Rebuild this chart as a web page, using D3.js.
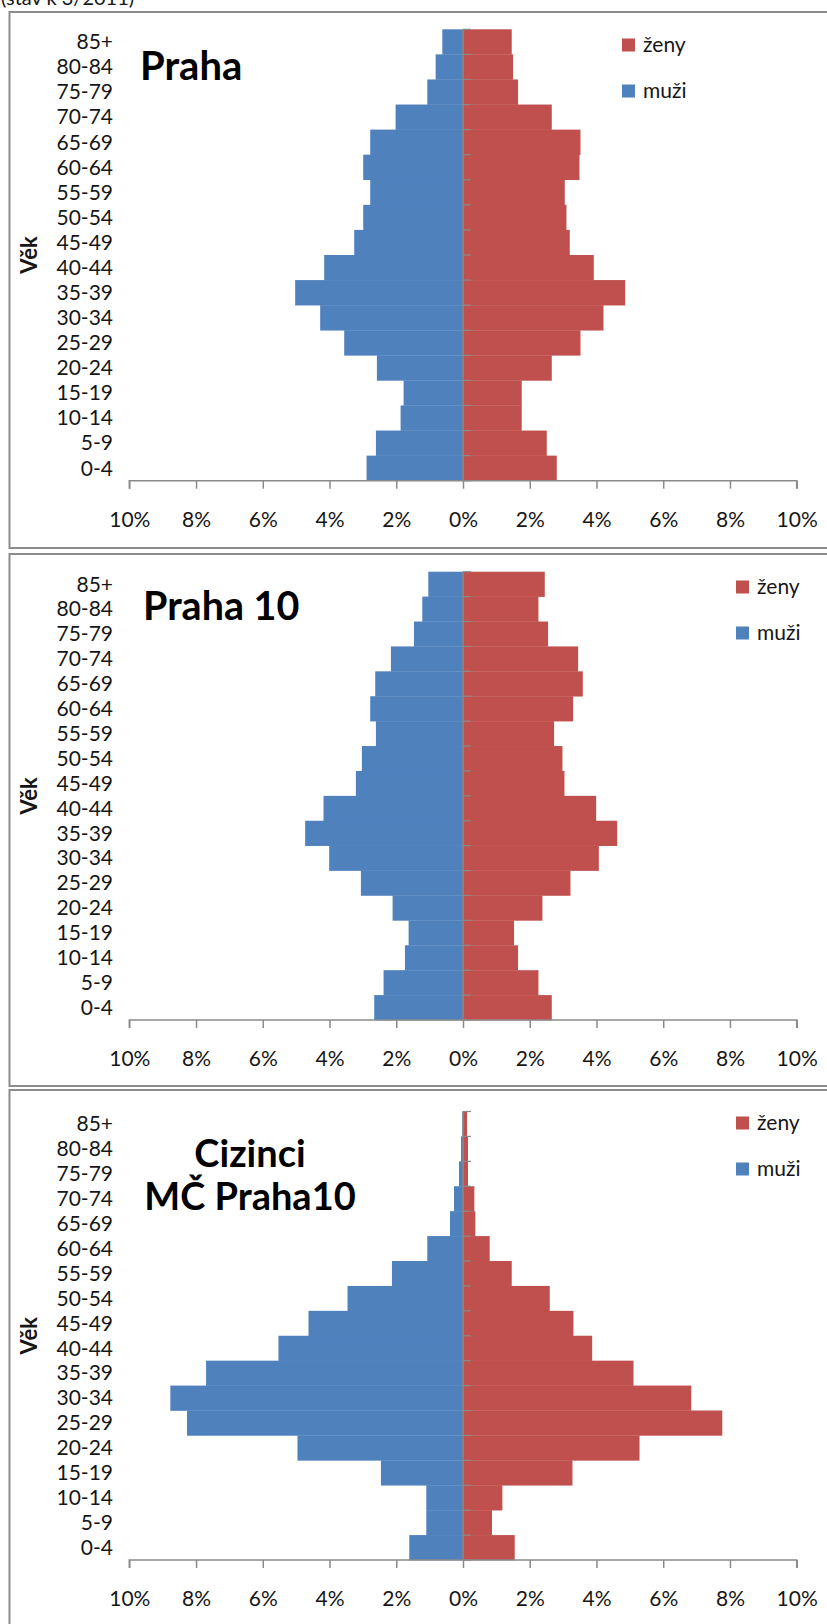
<!DOCTYPE html>
<html>
<head>
<meta charset="utf-8">
<script src="https://cdn.jsdelivr.net/npm/d3@7"></script>
<style>
  html, body { margin: 0; padding: 0; background: #fff; }
  svg { display: block; font-family: Lato, "Open Sans", sans-serif; }
</style>
</head>
<body>
<svg id="chart" width="827" height="1624"></svg>
<script>
// Age groups, youngest first
const ageGroups = ["0-4", "5-9", "10-14", "15-19", "20-24", "25-29", "30-34", "35-39", "40-44",
                   "45-49", "50-54", "55-59", "60-64", "65-69", "70-74", "75-79", "80-84", "85+"];

// Share of the population in each age group (%), same order as ageGroups
const prahaMuzi   = [2.89, 2.61, 1.87, 1.78, 2.58, 3.56, 4.28, 5.03, 4.16, 3.26, 2.99, 2.78, 2.99, 2.78, 2.02, 1.07, 0.82, 0.62];
const prahaZeny   = [2.81, 2.51, 1.76, 1.76, 2.66, 3.52, 4.21, 4.86, 3.92, 3.20, 3.10, 3.05, 3.49, 3.52, 2.66, 1.65, 1.50, 1.46];
const p10Muzi     = [2.66, 2.38, 1.74, 1.63, 2.11, 3.06, 4.01, 4.73, 4.18, 3.21, 3.03, 2.61, 2.78, 2.63, 2.16, 1.47, 1.22, 1.04];
const p10Zeny     = [2.66, 2.26, 1.65, 1.53, 2.38, 3.22, 4.07, 4.62, 3.99, 3.04, 2.98, 2.73, 3.30, 3.59, 3.45, 2.55, 2.26, 2.45];
const ciziMuzi    = [1.61, 1.10, 1.10, 2.46, 4.96, 8.27, 8.77, 7.70, 5.53, 4.63, 3.46, 2.13, 1.07, 0.39, 0.27, 0.12, 0.06, 0.02];
const ciziZeny    = [1.55, 0.87, 1.18, 3.28, 5.29, 7.77, 6.84, 5.11, 3.87, 3.31, 2.60, 1.46, 0.80, 0.37, 0.34, 0.15, 0.15, 0.12];

// Axis ticks (percent, signed: men to the left)
const tickValues = [-10, -8, -6, -4, -2, 0, 2, 4, 6, 8, 10];

// Legend entries
const legendLabels = ["ženy", "muži"];
const axisTitle = "Věk";
const note = "(stav k 3/2011)";

const COLORS = { muzi: "#4F81BD", zeny: "#C0504D", axis: "#8A8A8A", frame: "#8C8C8C", text: "#161616" };

const panels = [
  { title: ["Praha"], muzi: prahaMuzi, zeny: prahaZeny,
    frameTop: 12, frameBottom: 548, plotTop: 29.3, axisY: 480.7,
    titleX: 140, titleY: [80], titleAnchor: "start", titleSize: 40, legendX: 622 },
  { title: ["Praha 10"], muzi: p10Muzi, zeny: p10Zeny,
    frameTop: 554, frameBottom: 1086, plotTop: 571.7, axisY: 1020,
    titleX: 143, titleY: [620], titleAnchor: "start", titleSize: 39.5, legendX: 736 },
  { title: ["Cizinci", "MČ Praha10"], muzi: ciziMuzi, zeny: ciziZeny,
    frameTop: 1090, frameBottom: 1640, plotTop: 1111.5, axisY: 1560,
    titleX: 250, titleY: [1167, 1210], titleAnchor: "middle", titleSize: 38, legendX: 736 }
];

const svg = d3.select("#chart");

// Note above the first panel (runs off the page top)
svg.append("text")
  .attr("x", 1).attr("y", 5)
  .attr("font-size", 20).attr("fill", COLORS.text)
  .text(note);

const x = d3.scaleLinear().domain([-10, 10]).range([129.3, 796.7]);

panels.forEach(p => {
  const g = svg.append("g");

  // Panel frame (extends past the right edge)
  g.append("rect")
    .attr("x", 9.5).attr("y", p.frameTop)
    .attr("width", 830).attr("height", p.frameBottom - p.frameTop)
    .attr("fill", "#fff").attr("stroke", COLORS.frame).attr("stroke-width", 2);

  const y = d3.scaleBand()
    .domain(ageGroups.slice().reverse())
    .range([p.plotTop, p.axisY])
    .padding(0);

  const rows = ageGroups.map((a, i) => ({ age: a, m: p.muzi[i], z: p.zeny[i] }));

  // Men to the left
  g.append("g").selectAll("rect").data(rows).join("rect")
    .attr("x", d => x(-d.m))
    .attr("y", d => y(d.age))
    .attr("width", d => x(0) - x(-d.m))
    .attr("height", y.bandwidth() + 0.3)
    .attr("fill", COLORS.muzi);

  // Women to the right
  g.append("g").selectAll("rect").data(rows).join("rect")
    .attr("x", x(0))
    .attr("y", d => y(d.age))
    .attr("width", d => x(d.z) - x(0))
    .attr("height", y.bandwidth() + 0.3)
    .attr("fill", COLORS.zeny);

  // Horizontal value axis
  const xAxis = d3.axisBottom(x)
    .tickValues(tickValues)
    .tickSize(8)
    .tickPadding(23)
    .tickFormat(d => Math.abs(d) + "%");
  const gx = g.append("g").attr("transform", `translate(0,${p.axisY})`).call(xAxis);
  gx.select(".domain").attr("stroke", COLORS.axis).attr("stroke-width", 1.5)
    .attr("d", `M${x(-10)},8V0H${x(10)}V8`);
  gx.selectAll(".tick line").attr("stroke", COLORS.axis).attr("stroke-width", 1.5);
  gx.selectAll(".tick text").attr("font-size", 21).attr("fill", COLORS.text)
    .attr("font-family", "Lato, 'Open Sans', sans-serif");

  // Vertical category axis at 0 with ticks between bands
  const bounds = y.domain().map(a => y(a)).concat([p.axisY]);
  g.append("line")
    .attr("x1", x(0)).attr("x2", x(0))
    .attr("y1", p.plotTop).attr("y2", p.axisY)
    .attr("stroke", COLORS.axis).attr("stroke-width", 1.5);
  g.append("g").selectAll("line").data(bounds).join("line")
    .attr("x1", x(0)).attr("x2", x(0) + 8)
    .attr("y1", d => d).attr("y2", d => d)
    .attr("stroke", COLORS.axis).attr("stroke-width", 1.2);

  // Age labels on the left
  g.append("g").selectAll("text").data(ageGroups).join("text")
    .attr("x", 113)
    .attr("y", d => y(d) + y.bandwidth() / 2)
    .attr("dy", "0.35em")
    .attr("text-anchor", "end")
    .attr("font-size", 21)
    .attr("fill", COLORS.text)
    .text(d => d);

  // Axis title
  const midY = (p.plotTop + p.axisY) / 2;
  g.append("text")
    .attr("transform", `translate(37,${midY}) rotate(-90)`)
    .attr("text-anchor", "middle")
    .attr("font-size", 22).attr("font-weight", 700)
    .attr("fill", COLORS.text)
    .text(axisTitle);

  // Panel title
  p.title.forEach((t, i) => {
    g.append("text")
      .attr("x", p.titleX).attr("y", p.titleY[i])
      .attr("text-anchor", p.titleAnchor)
      .attr("font-size", p.titleSize).attr("font-weight", 700)
      .attr("fill", "#000")
      .text(t);
  });

  // Legend
  const legendColors = [COLORS.zeny, COLORS.muzi];
  const lg = g.append("g");
  legendLabels.forEach((lab, i) => {
    const cy = p.frameTop + 33 + i * 46;
    lg.append("rect")
      .attr("x", p.legendX).attr("y", cy - 6.5)
      .attr("width", 13).attr("height", 13)
      .attr("fill", legendColors[i]);
    lg.append("text")
      .attr("x", p.legendX + 21).attr("y", cy)
      .attr("dy", "0.35em")
      .attr("font-size", 21).attr("fill", COLORS.text)
      .text(lab);
  });
});
</script>
</body>
</html>
